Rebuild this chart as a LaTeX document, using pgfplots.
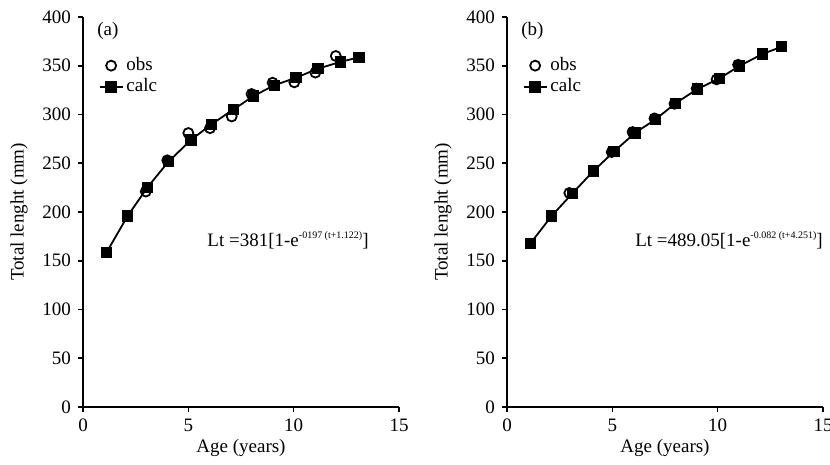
\documentclass[border=0pt]{standalone}
\usepackage{fontspec}
\setmainfont{Liberation Serif}
\usepackage{pgfplots}
\pgfplotsset{compat=1.18}

\newcommand{\expsup}[1]{\raisebox{4pt}{\fontsize{5}{5}\selectfont #1}}

\pgfplotsset{
  growth/.style={
    width=158pt, height=195pt, scale only axis,
    xmin=0, xmax=15, ymin=0, ymax=400,
    xtick={0,5,10,15}, ytick={0,50,...,400},
    axis lines=left,
    axis line style={-, line width=0.9pt},
    tick align=outside, major tick length=2.5pt,
    tick style={line width=0.8pt, black},
    /pgf/number format/assume math mode=true,
    font=\fontsize{9.5}{11}\selectfont,
    xlabel={Age (years)}, ylabel={Total lenght (mm)},
    xlabel style={yshift=3pt}, ylabel style={yshift=0.5pt},
    clip=false,
    legend style={draw=none, fill=none, at={(0.03,0.915)}, anchor=north west,
      row sep=-0.5pt, font=\fontsize{9.5}{11}\selectfont,
      nodes={inner sep=1.5pt}},
    legend cell align=left,
  },
  obs/.style={only marks, mark=o, mark size=2.5pt, mark options={line width=0.9pt, fill=white},
    legend image code/.code={\draw plot coordinates {(0.2cm,0cm)};}},
  calc/.style={black, line width=0.9pt, mark=square*, mark size=2.4pt,
    legend image code/.code={\draw[mark repeat=2,mark phase=2] plot coordinates {(0cm,0cm) (0.2cm,0cm) (0.4cm,0cm)};}},
}

\begin{document}
\begin{tikzpicture}
\useasboundingbox (-41.5pt,-29pt) rectangle (373.5pt,203.5pt);
\begin{axis}[growth, at={(0,0)}, anchor=south west]
  \addplot[obs] coordinates {
    (2.98,221) (4.0,253) (5.0,281) (6.03,286) (7.06,298) (8.0,321)
    (9.0,332.6) (10.03,333) (11.03,343) (12.0,360)
  };
  \addlegendentry{obs}
  \addplot[calc] coordinates {
    (1.12,158.6) (2.12,196) (3.05,225) (4.05,251.5) (5.13,274) (6.1,290)
    (7.13,305) (8.1,319) (9.08,330) (10.11,337.7) (11.15,347) (12.23,354) (13.11,358.7)
  };
  \addlegendentry{calc}
  \node[anchor=west, inner sep=0pt] at (axis cs:0.66,386) {(a)};
  \node[anchor=west, inner sep=0pt] at (axis cs:5.89,171) {Lt =381[1-e\expsup{-0197 (t+1.122)}]};
\end{axis}
\begin{axis}[growth, at={(212pt,0)}, anchor=south west]
  \addplot[obs] coordinates {
    (2.96,219.5) (4.97,261.5) (5.96,282) (7.0,296) (7.95,311) (9.0,326.5)
    (9.95,336) (10.97,351)
  };
  \addlegendentry{obs}
  \addplot[calc] coordinates {
    (1.12,168) (2.12,196) (3.1,219) (4.1,242) (5.08,262) (6.07,281)
    (7.05,295) (8.0,311.5) (9.03,326) (10.08,337) (11.03,349.7) (12.12,362) (13.04,369.5)
  };
  \addlegendentry{calc}
  \node[anchor=west, inner sep=0pt] at (axis cs:0.66,386) {(b)};
  \node[anchor=west, inner sep=0pt] at (axis cs:6.07,171) {Lt =489.05[1-e\expsup{-0.082 (t+4.251)}]};
\end{axis}
\end{tikzpicture}
\end{document}
